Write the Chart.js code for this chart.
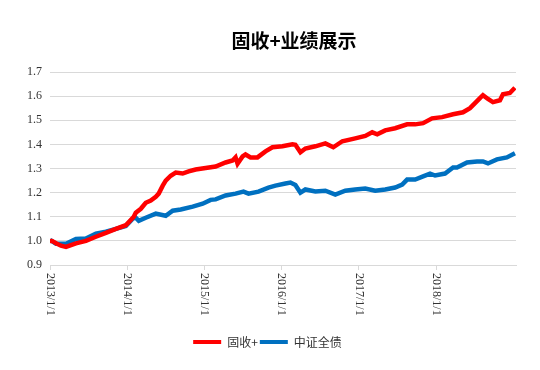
<!DOCTYPE html>
<html>
<head>
<meta charset="utf-8">
<script src="https://cdn.jsdelivr.net/npm/chart.js@4/dist/chart.umd.min.js"></script>
<style>
  html, body { margin: 0; padding: 0; background: #fff; }
  #wrap { width: 540px; height: 370px; }
</style>
</head>
<body>
<div id="wrap"><canvas id="chart"></canvas></div>
<script>
// 标题与图例
const chartTitle = '固收+业绩展示';
const seriesNames = ['固收+', '中证全债'];

// x 轴刻度（年份，按小数年表示日期）
const yearTicks = [2013, 2014, 2015, 2016, 2017, 2018];

// 固收+ 净值
const guShouYears = [2013.000, 2013.026, 2013.078, 2013.142, 2013.207, 2013.336, 2013.465, 2013.594, 2013.724, 2013.853,
  2013.982, 2014.085, 2014.111, 2014.176, 2014.240, 2014.305, 2014.370, 2014.408, 2014.460, 2014.499,
  2014.563, 2014.628, 2014.718, 2014.796, 2014.886, 2015.016, 2015.145, 2015.274, 2015.364, 2015.403,
  2015.429, 2015.494, 2015.532, 2015.597, 2015.687, 2015.791, 2015.881, 2016.010, 2016.140, 2016.178,
  2016.243, 2016.307, 2016.437, 2016.566, 2016.669, 2016.786, 2016.953, 2017.083, 2017.173, 2017.238,
  2017.341, 2017.470, 2017.625, 2017.729, 2017.832, 2017.948, 2018.078, 2018.220, 2018.349, 2018.439,
  2018.504, 2018.568, 2018.607, 2018.672, 2018.736, 2018.827, 2018.866, 2018.956, 2019.021];
const guShou = [1.000, 1.000, 0.990, 0.980, 0.975, 0.990, 1.000, 1.017, 1.033, 1.050,
  1.065, 1.100, 1.117, 1.133, 1.158, 1.167, 1.183, 1.196, 1.229, 1.250,
  1.270, 1.283, 1.279, 1.288, 1.296, 1.302, 1.308, 1.325, 1.333, 1.346,
  1.320, 1.350, 1.358, 1.346, 1.346, 1.371, 1.388, 1.392, 1.400, 1.398,
  1.367, 1.383, 1.392, 1.404, 1.388, 1.413, 1.425, 1.435, 1.450, 1.442,
  1.458, 1.467, 1.483, 1.483, 1.488, 1.508, 1.513, 1.525, 1.533, 1.550,
  1.571, 1.592, 1.604, 1.588, 1.575, 1.583, 1.608, 1.613, 1.635];

// 中证全债 净值
const zhongZhaiYears = [2013.000, 2013.078, 2013.207, 2013.336, 2013.465, 2013.594, 2013.724, 2013.853, 2013.982, 2014.072,
  2014.111, 2014.150, 2014.240, 2014.370, 2014.499, 2014.589, 2014.693, 2014.848, 2014.977, 2015.080,
  2015.145, 2015.274, 2015.403, 2015.506, 2015.571, 2015.700, 2015.829, 2015.920, 2016.049, 2016.114,
  2016.178, 2016.243, 2016.307, 2016.437, 2016.566, 2016.695, 2016.824, 2016.953, 2017.083, 2017.212,
  2017.341, 2017.470, 2017.561, 2017.625, 2017.729, 2017.832, 2017.922, 2017.987, 2018.116, 2018.220,
  2018.271, 2018.401, 2018.530, 2018.607, 2018.672, 2018.788, 2018.917, 2019.021];
const zhongZhai = [1.004, 0.988, 0.988, 1.008, 1.010, 1.030, 1.038, 1.050, 1.062, 1.092,
  1.096, 1.083, 1.096, 1.113, 1.104, 1.125, 1.130, 1.142, 1.154, 1.170,
  1.172, 1.188, 1.196, 1.204, 1.196, 1.204, 1.221, 1.229, 1.238, 1.242,
  1.232, 1.200, 1.213, 1.205, 1.208, 1.192, 1.208, 1.213, 1.217, 1.208,
  1.213, 1.221, 1.233, 1.254, 1.254, 1.267, 1.279, 1.271, 1.279, 1.304,
  1.304, 1.325, 1.329, 1.329, 1.321, 1.338, 1.346, 1.363];

const toPoints = (xs, ys) => xs.map((x, i) => ({ x: x, y: ys[i] }));

// 标题：画在图的上方
const titlePlugin = {
  id: 'titleText',
  afterDraw(chart) {
    const ctx = chart.ctx;
    ctx.save();
    ctx.font = 'bold 19px "Noto Sans CJK SC", sans-serif';
    ctx.fillStyle = '#000';
    ctx.textAlign = 'center';
    ctx.textBaseline = 'middle';
    ctx.fillText(chartTitle, 294, 41);
    ctx.restore();
  }
};

// x 轴标签顺时针旋转 90 度
const xLabelPlugin = {
  id: 'xLabels',
  afterDraw(chart) {
    const ctx = chart.ctx;
    const xs = chart.scales.x;
    ctx.save();
    ctx.font = '12px "Liberation Serif", serif';
    ctx.fillStyle = '#333';
    ctx.textAlign = 'left';
    ctx.textBaseline = 'middle';
    yearTicks.forEach(y => {
      const px = xs.getPixelForValue(y);
      ctx.save();
      ctx.translate(px, xs.top + 8);
      ctx.rotate(Math.PI / 2);
      ctx.fillText(y + '/1/1', 0, 0);
      ctx.restore();
    });
    ctx.restore();
  }
};

new Chart(document.getElementById('chart'), {
  type: 'line',
  data: {
    datasets: [{
      label: seriesNames[0],
      data: toPoints(guShouYears, guShou),
      borderColor: '#ff0000',
      backgroundColor: '#ff0000',
      borderWidth: 4.5,
      pointRadius: 0,
      tension: 0
    }, {
      label: seriesNames[1],
      data: toPoints(zhongZhaiYears, zhongZhai),
      borderColor: '#0070c0',
      backgroundColor: '#0070c0',
      borderWidth: 4.5,
      pointRadius: 0,
      tension: 0
    }]
  },
  options: {
    responsive: true,
    maintainAspectRatio: false,
    animation: false,
    layout: { padding: { top: 72, right: 24, left: 19, bottom: 12 } },
    plugins: {
      legend: {
        position: 'bottom',
        labels: {
          font: { family: '"Noto Sans CJK SC", sans-serif', size: 12 },
          color: '#333',
          boxWidth: 28,
          boxHeight: 4,
          padding: 2,
          generateLabels(chart) {
            return Chart.defaults.plugins.legend.labels.generateLabels(chart).map(l => {
              l.lineWidth = 0;
              return l;
            });
          }
        }
      },
      tooltip: { enabled: false }
    },
    scales: {
      x: {
        type: 'linear',
        min: 2013,
        max: 2019.035,
        afterBuildTicks(axis) {
          axis.ticks = yearTicks.map(v => ({ value: v }));
        },
        afterFit(axis) {
          axis.height = 69;
        },
        ticks: { display: false },
        grid: { drawOnChartArea: false, color: '#d9d9d9', tickLength: 5 },
        border: { color: '#d9d9d9' }
      },
      y: {
        min: 0.9,
        max: 1.7,
        ticks: {
          stepSize: 0.1,
          padding: 8,
          color: '#333',
          font: { family: '"Liberation Serif", serif', size: 12 },
          callback: v => v.toFixed(1)
        },
        grid: { color: '#d9d9d9', drawTicks: false },
        border: { display: false }
      }
    }
  },
  plugins: [titlePlugin, xLabelPlugin]
});
</script>
</body>
</html>
